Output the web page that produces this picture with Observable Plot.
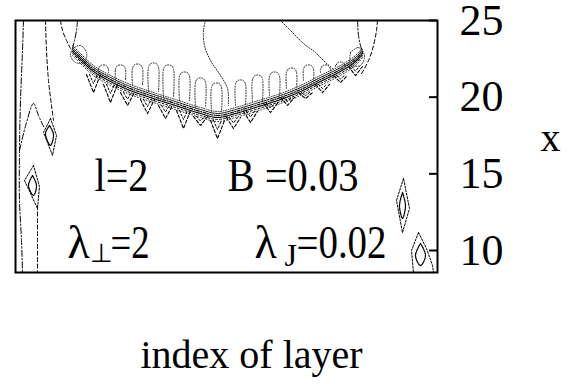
<!DOCTYPE html>
<html><head><meta charset="utf-8">
<script src="https://cdn.jsdelivr.net/npm/d3@7"></script>
<script src="https://cdn.jsdelivr.net/npm/@observablehq/plot@0.6"></script>
<style>
body{margin:0;background:#fff}
</style>
</head><body><div id="chart"></div>
<script>
const FONT = "Liberation Serif";
// ---- axis ----
const yTicks = [10, 15, 20, 25];
const xDomain = [0, 42.2];      // index of layer
const yDomain = [8.565, 25];    // x

// ---- main band (centre line of the dense contour bundle) ----
const bandX = [5.7, 6.5, 7.8, 9.5, 11.2, 13.5, 16.0, 18.5, 20.2, 22.0, 24.0, 26.5, 28.5, 30.5, 32.5, 34.0, 34.7];
const bandY = [23.04, 22.52, 21.74, 21.09, 20.57, 20.04, 19.52, 19.00, 18.74, 19.00, 19.39, 19.91, 20.43, 21.09, 21.74, 22.39, 22.91];

// ---- dotted loops above the band ----
const loopX    = [8.8, 10.5, 12.2, 13.8, 15.3, 16.9, 18.5, 20.1, 22.5, 24.2, 25.9, 27.6, 29.3, 31.0, 32.5];
const loopTop  = [22.07, 22.07, 22.13, 22.20, 22.07, 21.61, 21.22, 20.89, 21.09, 21.41, 21.61, 21.87, 22.07, 22.07, 22.26];
const loopBase = [21.61, 21.15, 20.76, 20.37, 20.04, 19.78, 19.33, 19.07, 19.46, 19.72, 20.11, 20.57, 21.09, 21.61, 22.07];

// ---- dashed chevrons below the band ----
const chevX      = [7.8, 9.5, 11.2, 13.2, 15.0, 16.8, 18.5, 20.2, 21.8, 23.5, 25.5, 27.2, 29.0, 30.7, 32.5, 34.0];
const chevTop    = [21.48, 20.83, 20.30, 19.85, 19.46, 19.13, 18.74, 18.48, 18.67, 19.07, 19.59, 19.98, 20.30, 20.83, 21.41, 22.00];
const chevBottom = [20.30, 19.65, 19.46, 18.93, 18.61, 17.96, 18.15, 17.30, 17.96, 18.35, 19.00, 19.46, 19.91, 20.30, 20.96, 21.41];

// ---- other contour lines [index of layer, x] ----
const topLeftDashed   = [[4.5,25],[4.7,24.35],[5.1,23.70],[5.5,23.17]];
const topLeftDashDot  = [[6.2,25],[6.1,24.35],[5.9,23.70],[5.7,23.17]];
const topRightDashDot = [[34.2,25],[34.3,24.02],[34.5,23.37],[34.7,22.91]];
const topRightDashed  = [[36.2,25],[36.1,24.35],[35.8,23.37],[35.3,22.39],[34.5,21.41]];
const dottedArcLeft   = [[19.0,25],[18.8,24.35],[18.9,23.37],[19.5,22.39],[20.5,21.41],[21.2,20.57],[21.3,19.46]];
const dottedArcRight  = [[26.5,25],[27.5,24.35],[28.8,23.50],[30.0,22.91],[30.8,22.39],[31.7,21.87]];
const leftEdgeDashDot = [[0.8,25],[0.7,23.04],[0.5,19.78],[0.4,16.52],[0.4,13.26],[0.6,10.65],[0.7,8.56]];
const leftDashed      = [[3.0,25],[3.1,23.04],[3.3,21.09],[3.6,19.46],[3.8,18.48]];
const leftPeak        = [[0.4,16.52],[1.1,18.35],[1.8,19.59],[2.3,18.80],[2.9,17.96]];
const leftLowerDashed = [[2.2,12.93],[2.2,10.65],[2.2,8.56]];
const blobShells = [
  [[3.5,18.61],[2.8,17.70],[3.7,16.20],[4.1,17.50],[3.5,18.61]],
  [[1.8,15.54],[0.9,14.57],[2.2,12.74],[2.4,14.17],[1.8,15.54]],
  [[38.8,14.70],[38.1,13.26],[38.7,11.17],[39.4,12.74],[38.8,14.70]],
  [[40.3,11.17],[39.6,10.00],[39.8,8.56]],
  [[40.3,11.17],[41.1,10.13],[41.7,9.02],[41.8,8.56]]
];
const blobCores = [
  [[3.4,18.15],[3.0,17.63],[3.5,16.85],[3.8,17.56],[3.4,18.15]],
  [[1.7,14.89],[1.3,14.24],[1.8,13.59],[2.1,14.24],[1.7,14.89]],
  [[38.7,13.78],[38.4,12.93],[38.7,12.09],[39.0,12.93],[38.7,13.78]],
  [[40.5,10.46],[40.0,9.67],[40.5,9.02],[41.0,9.67],[40.5,10.46]]
];
const bandEndCores = [
  [[5.7,23.17],[6.5,23.37],[7.1,22.91],[6.9,22.26],[6.0,22.26],[5.5,22.72],[5.7,23.17]],
  [[33.5,22.91],[34.3,23.24],[34.9,22.72],[34.5,22.07],[33.5,22.13],[33.5,22.91]]
];

// ---- annotations ----
const annotations = [
  {t: "l=2",     x: 7.9,  y: 13.91, s: 46},
  {t: "B =0.03", x: 21.2, y: 13.91, s: 46},
  {t: "λ",       x: 5.2,  y: 9.54,  s: 46},
  {t: "⊥",       x: 7.4,  y: 9.22,  s: 26},
  {t: "=2",      x: 9.5,  y: 9.54,  s: 46},
  {t: "λ",       x: 23.9, y: 9.54,  s: 46},
  {t: "J",       x: 26.9, y: 9.02,  s: 32},
  {t: "=0.02",   x: 28.1, y: 9.54,  s: 46}
];
const fitWidth = {"l=2": 54, "B =0.03": 131, "=2": 39, "=0.02": 90};

// ---- build tables ----
const zip = (xs, ys) => xs.map((x, i) => [x, ys[i]]);
const rows = paths => paths.flatMap((p, k) => p.map(([x, y]) => ({x, y, k})));
const band = zip(bandX, bandY);
const loops = loopX.map((x, i) => [[x-0.5, loopBase[i]], [x-0.5, loopTop[i]-0.25], [x-0.25, loopTop[i]], [x+0.25, loopTop[i]], [x+0.5, loopTop[i]-0.25], [x+0.5, loopBase[i]]]);
const chevrons = chevX.map((x, i) => [[x-0.7, chevTop[i]], [x, chevBottom[i]], [x+0.7, chevTop[i]]]);
const chevronsInner = chevX.map((x, i) => [[x-0.4, chevTop[i]], [x, (chevTop[i]+chevBottom[i])/2], [x+0.4, chevTop[i]]]);

const DOT = "1,1.6", DASH = "4,2.5", DASHDOT = "6,2,1.5,2";
const line = (data, dash, extra = {}) => Plot.line(rows(data), {x: "x", y: "y", z: "k", stroke: "black", strokeWidth: 1, strokeDasharray: dash, curve: "catmull-rom", clip: true, ...extra});

const svg = Plot.plot({
  width: 576, height: 384,
  marginLeft: 15, marginRight: 139, marginTop: 20, marginBottom: 112,
  x: {domain: xDomain, axis: null},
  y: {domain: yDomain, axis: null},
  style: {background: "white", color: "black", fontFamily: FONT},
  marks: [
    line([band], "1,1.5", {dy: -5, stroke: "#333"}),
    line([band], "2,1", {dy: -3}),
    line([band], "3,1.5,1,1.5", {dy: -1, strokeWidth: 1.2}),
    line([band], "1,1", {dy: 1, strokeWidth: 1.2}),
    line([band], "2,2", {dy: 3}),
    line([band], "1,2", {dy: 5, stroke: "#333"}),
    line(loops, DOT, {stroke: "#222"}),
    line(chevrons, "3,2", {curve: "linear", strokeWidth: 1.1}),
    line(chevronsInner, "2,2", {curve: "linear"}),
    line([topLeftDashed, topRightDashed, leftDashed, leftLowerDashed], DASH),
    line([topLeftDashDot, topRightDashDot, leftEdgeDashDot, leftPeak], DASHDOT),
    line([dottedArcLeft, dottedArcRight], DOT, {stroke: "#222"}),
    line(blobShells, "2,1.5", {curve: "linear"}),
    line(blobCores, "1,1", {strokeWidth: 1.3}),
    line(bandEndCores, "1,1.5", {stroke: "#333"}),
    Plot.frame({stroke: "black", strokeWidth: 2}),
    Plot.tickY(yTicks, {y: d => d, stroke: "black", strokeWidth: 2, insetLeft: 414}),
    Plot.axisY({anchor: "right", ticks: yTicks, tickSize: 0, tickPadding: 22, fontSize: 44, label: null, fill: "black", fontFamily: FONT}),
    Plot.text(annotations, {x: "x", y: "y", text: "t", fontSize: "s", textAnchor: "start", lineAnchor: "bottom", fill: "black", fontFamily: FONT}),
    Plot.text(["index of layer"], {text: d => d, frameAnchor: "bottom", dx: 25, dy: 95, lineAnchor: "bottom", fontSize: 40, fill: "black", fontFamily: FONT}),
    Plot.text(["x"], {text: d => d, frameAnchor: "right", dx: 113, dy: -8, textAnchor: "middle", fontSize: 40, fill: "black", fontFamily: FONT})
  ]
});
svg.setAttribute("font-family", FONT);
d3.select(svg).selectAll("text").each(function() {
  this.setAttribute("font-family", FONT);
  const w = fitWidth[this.textContent];
  if (w) { this.setAttribute("textLength", w); this.setAttribute("lengthAdjust", "spacingAndGlyphs"); }
});
document.getElementById("chart").appendChild(svg);
</script>
</body></html>
